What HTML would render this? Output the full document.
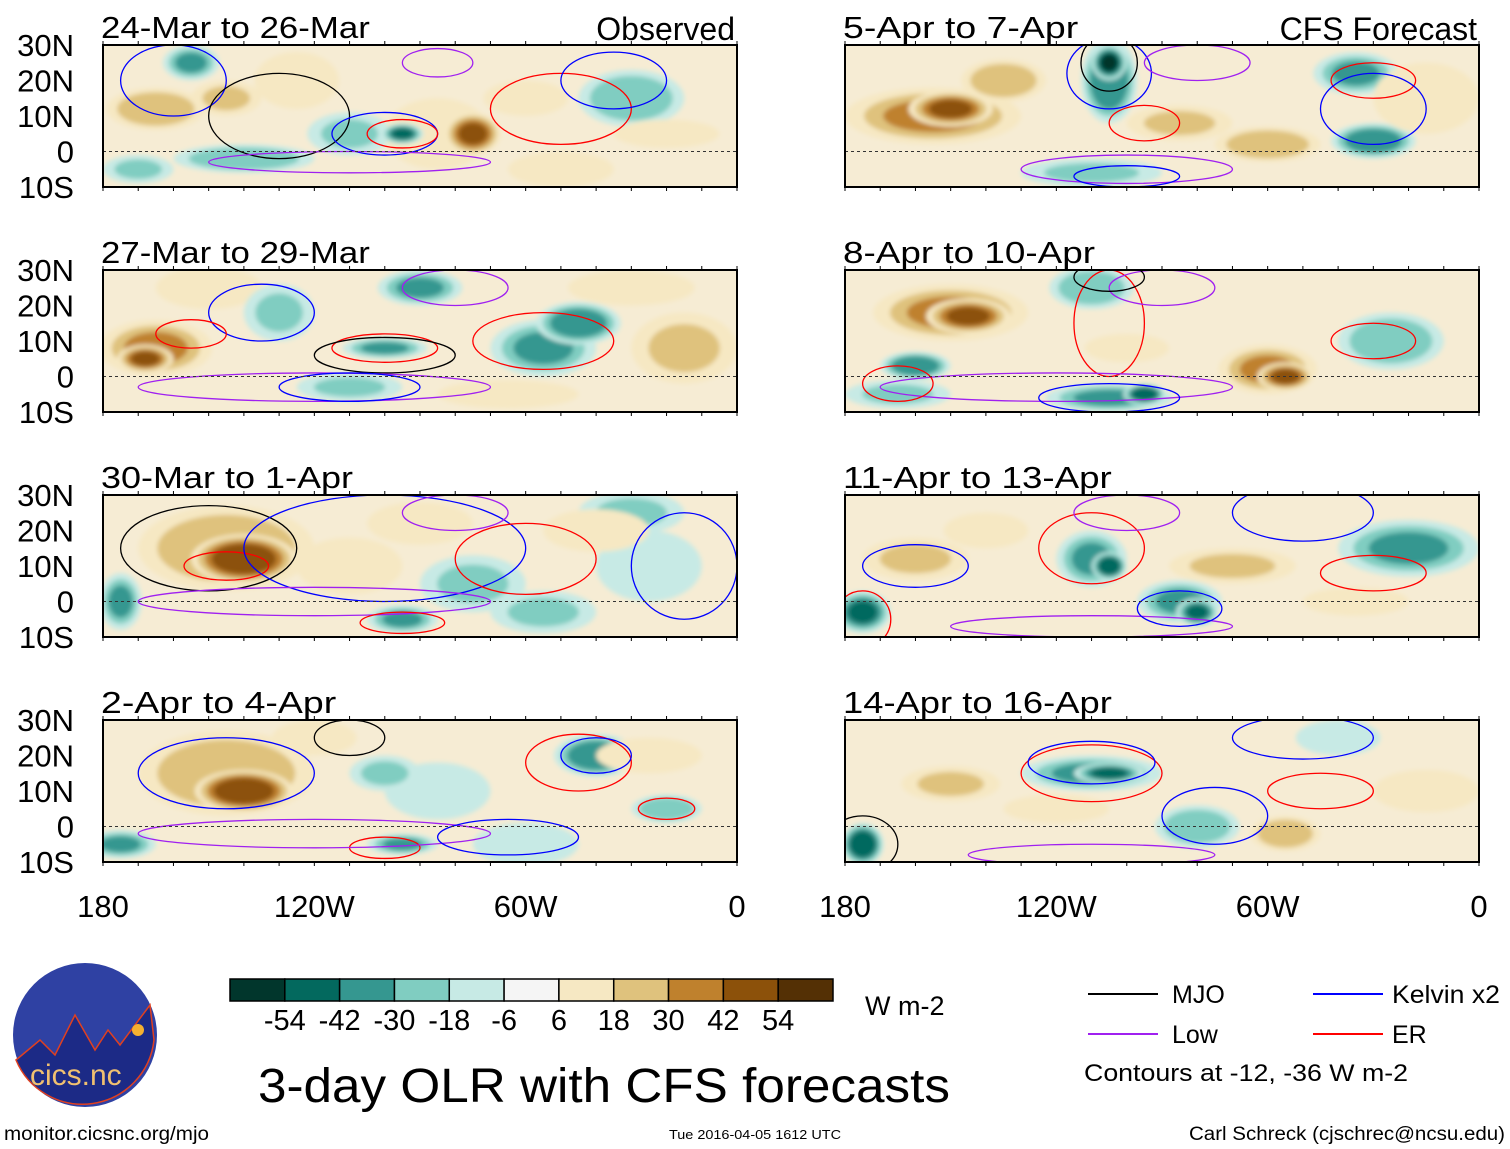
<!DOCTYPE html>
<html><head><meta charset="utf-8"><style>
html,body{margin:0;padding:0;background:#fff}
svg{display:block}
text{font-family:"Liberation Sans",sans-serif;fill:#000}
</style></head><body>
<svg id="chart" width="1510" height="1149" viewBox="0 0 1510 1149" xmlns="http://www.w3.org/2000/svg">
<defs>
<filter id="bl" x="-20%" y="-20%" width="140%" height="140%"><feGaussianBlur stdDeviation="2.5"/></filter>
</defs>
<g id="panels"></g>
<g id="colorbar"></g>
<text x="865" y="1015" font-size="27">W m-2</text>
<text x="258" y="1102" font-size="48" textLength="692" lengthAdjust="spacingAndGlyphs">3-day OLR with CFS forecasts</text>
<g>
<line x1="1088" y1="994" x2="1158" y2="994" stroke="#000" stroke-width="2"/><text x="1172" y="1003" font-size="25">MJO</text>
<line x1="1313" y1="994" x2="1383" y2="994" stroke="#0000ff" stroke-width="2"/><text x="1392" y="1003" font-size="25" textLength="108" lengthAdjust="spacingAndGlyphs">Kelvin x2</text>
<line x1="1088" y1="1034" x2="1158" y2="1034" stroke="#a020f0" stroke-width="2"/><text x="1172" y="1043" font-size="25">Low</text>
<line x1="1313" y1="1034" x2="1383" y2="1034" stroke="#ff0000" stroke-width="2"/><text x="1392" y="1043" font-size="25">ER</text>
<text x="1084" y="1081" font-size="24" textLength="324" lengthAdjust="spacingAndGlyphs">Contours at -12, -36 W m-2</text>
</g>
<g>
<circle cx="85" cy="1035" r="72" fill="#2f41a3"/>
<path d="M16 1060 L40 1040 L55 1055 L75 1015 L95 1050 L108 1030 L120 1045 L150 1005 L154 1040 A72 72 0 0 1 16 1060Z" fill="#1c2a86" stroke="#e04020" stroke-width="1.5"/>
<circle cx="138" cy="1030" r="6" fill="#f5b030"/>
<text x="30" y="1085" font-size="30" style="fill:#f0c070">cics.nc</text>
</g>
<text x="4" y="1140" font-size="19" textLength="205" lengthAdjust="spacingAndGlyphs">monitor.cicsnc.org/mjo</text>
<text x="669" y="1139" font-size="13" textLength="172" lengthAdjust="spacingAndGlyphs">Tue 2016-04-05 1612 UTC</text>
<text x="1189" y="1140" font-size="19" textLength="316" lengthAdjust="spacingAndGlyphs">Carl Schreck (cjschrec@ncsu.edu)</text>
</svg>
<script>
const levels=[-54,-42,-30,-18,-6,6,18,30,42,54];
const colors=["#01362c","#03695e","#359790","#80cdc1","#c7eae5","#f5f5f5","#f6e8c3","#dfc27d","#bf812d","#8c510a","#543005"];
const titles=["24-Mar to 26-Mar","27-Mar to 29-Mar","30-Mar to 1-Apr","2-Apr to 4-Apr","5-Apr to 7-Apr","8-Apr to 10-Apr","11-Apr to 13-Apr","14-Apr to 16-Apr"];
const latTicks=[30,20,10,0,-10];
const latLabels=["30N","20N","10N","0","10S"];
const lonTicks=[-180,-120,-60,0];
const lonLabels=["180","120W","60W","0"];
// anomaly blobs per panel: [lon, lat, rxDeg, ryDeg, value W m-2]
const blobs=[
 [[-165,12,14,6,25],[-145,15,10,5,20],[-125,20,12,8,15],[-110,5,12,6,-20],[-140,-2,20,4,-25],[-85,5,15,10,18],[-75,5,8,6,45],[-95,5,6,3,-45],[-60,15,12,5,12],[-30,15,15,8,-25],[-20,5,15,4,18],[-170,-5,10,4,-18],[-50,-5,15,5,15],[-155,25,8,5,-30]],
 [[-165,8,16,8,35],[-168,5,8,4,48],[-150,25,15,6,18],[-130,18,10,8,-20],[-100,8,12,3,-35],[-90,25,12,5,-30],[-55,8,15,8,-30],[-45,15,12,6,-40],[-110,-3,15,4,-18],[-15,8,15,10,20],[-65,-5,20,4,15],[-30,25,18,5,15]],
 [[-145,15,25,12,30],[-140,12,15,7,50],[-175,0,6,8,-35],[-110,10,15,8,12],[-90,22,15,6,15],[-75,5,15,8,-18],[-55,-3,15,6,-20],[-25,10,15,10,-12],[-30,25,15,6,-20],[-95,-5,10,4,-35],[-40,20,15,6,15]],
 [[-145,15,25,12,30],[-140,10,14,6,52],[-120,25,12,5,18],[-175,-5,10,4,-30],[-95,-5,10,3,-30],[-40,20,12,6,-40],[-85,10,15,8,-12],[-60,-5,15,6,-15],[-20,5,10,4,-25],[-25,20,15,5,18],[-100,15,10,5,-18]],
 [[-155,10,25,8,35],[-150,12,12,5,48],[-135,20,12,6,25],[-105,20,8,12,-40],[-105,25,5,5,-54],[-85,8,15,5,20],[-60,2,15,5,25],[-30,3,12,5,-40],[-35,22,12,6,-30],[-110,-6,20,4,-20],[-15,15,15,10,12]],
 [[-150,18,22,8,35],[-145,17,12,5,48],[-160,3,10,4,-40],[-110,25,12,6,-25],[-60,2,14,7,35],[-55,0,8,4,48],[-25,10,15,8,-25],[-105,-6,18,4,-30],[-95,-5,6,3,-50],[-100,8,12,4,15],[-165,-5,15,4,-20]],
 [[-160,12,15,6,20],[-110,12,10,8,-35],[-105,10,5,4,-50],[-175,-3,8,6,-45],[-85,0,12,6,-30],[-80,-3,6,4,-45],[-70,10,18,5,20],[-20,15,20,8,-30],[-140,20,12,5,15],[-35,0,15,4,15]],
 [[-150,12,14,5,22],[-110,15,20,5,-30],[-105,15,10,3,-45],[-175,-5,6,6,-50],[-80,0,12,6,-25],[-55,-2,10,5,25],[-15,10,15,6,15],[-40,25,12,5,-15],[-120,5,15,4,15]]
];
// contours per panel: [lon, lat, rxDeg, ryDeg, type]  type: 0 MJO,1 Kelvin,2 Low,3 ER
const contours=[
 [[-160,20,15,10,1],[-130,10,20,12,0],[-100,5,15,6,1],[-95,5,10,4,3],[-50,12,20,10,3],[-35,20,15,8,1],[-110,-3,40,3,2],[-85,25,10,4,2]],
 [[-135,18,15,8,1],[-155,12,10,4,3],[-100,8,15,4,3],[-100,6,20,5,0],[-55,10,20,8,3],[-80,25,15,5,2],[-120,-3,50,4,2],[-110,-3,20,4,1]],
 [[-150,15,25,12,0],[-145,10,12,4,3],[-100,15,40,15,1],[-60,12,20,10,3],[-80,25,15,5,2],[-120,0,50,4,2],[-95,-6,12,3,3],[-15,10,15,15,1]],
 [[-145,15,25,10,1],[-110,25,10,5,0],[-45,18,15,8,3],[-40,20,10,5,1],[-100,-6,10,3,3],[-120,-2,50,4,2],[-65,-3,20,5,1],[-20,5,8,3,3]],
 [[-105,22,12,10,1],[-105,25,8,8,0],[-95,8,10,5,3],[-30,20,12,5,3],[-30,12,15,10,1],[-80,25,15,5,2],[-100,-5,30,4,2],[-100,-7,15,3,1]],
 [[-105,15,10,15,3],[-90,25,15,5,2],[-30,10,12,5,3],[-120,-3,50,4,2],[-105,-6,20,4,1],[-165,-2,10,5,3],[-105,28,10,4,0]],
 [[-110,15,15,10,3],[-100,25,15,5,2],[-160,10,15,6,1],[-30,8,15,5,3],[-50,25,20,8,1],[-110,-7,40,3,2],[-175,-5,8,8,3],[-85,-2,12,5,1]],
 [[-110,15,20,8,3],[-110,18,18,6,1],[-45,10,15,5,3],[-75,3,15,8,1],[-110,-8,35,3,2],[-50,25,20,6,1],[-175,-5,10,8,0]]
];
const NS="http://www.w3.org/2000/svg";
const W=634,H=142;
function px(x0,lon){return x0+(lon+180)/180*W;}
function py(y0,lat){return y0+(30-lat)/40*H;}
function colorFor(v){let i=0;while(i<levels.length&&v>levels[i])i++;return colors[i];}
const ctype=["#000","#0000ff","#a020f0","#ff0000"];
const root=document.getElementById("panels");
function mk(tag,attrs,parent){const e=document.createElementNS(NS,tag);for(const k in attrs)e.setAttribute(k,attrs[k]);parent.appendChild(e);return e;}
for(let p=0;p<8;p++){
 const col=p<4?0:1,row=p%4;
 const x0=col?845:103,y0=45+row*225;
 const g=mk("g",{},root);
 
 
 const cp=mk("clipPath",{id:"c"+p},g);
 mk("rect",{x:x0,y:y0,width:W,height:H},cp);
 mk("rect",{x:x0,y:y0,width:W,height:H,fill:"#f6ecd4"},g);
 const fg=mk("g",{"clip-path":"url(#c"+p+")",filter:"url(#bl)"},g);
 blobs[p].forEach(b=>{
  const v=b[4];
  const steps=Math.ceil(Math.abs(v)/12);
  for(let s=0;s<steps;s++){
   const f=1-0.65*s/steps;const val=Math.sign(v)*Math.min(Math.abs(v),(s+1)*12);
   const e=mk("ellipse",{cx:px(x0,b[0]),cy:py(y0,b[1]),rx:b[2]/180*W*f,ry:b[3]/40*H*f,fill:colorFor(val)},fg);
   
   
  }
 });
 const cg=mk("g",{"clip-path":"url(#c"+p+")"},g);
 contours[p].forEach(c=>{
  const e=mk("ellipse",{cx:px(x0,c[0]),cy:py(y0,c[1]),rx:c[2]/180*W,ry:c[3]/40*H,fill:"none",stroke:ctype[c[4]],"stroke-width":1.3},cg);
  
  
 });
 mk("line",{x1:x0,y1:py(y0,0),x2:x0+W,y2:py(y0,0),stroke:"#333","stroke-dasharray":"3,3","stroke-width":1},g);
 mk("rect",{x:x0,y:y0,width:W,height:H,fill:"none",stroke:"#000","stroke-width":2},g);
 for(let l=-180;l<=0;l+=10){const x=px(x0,l);mk("line",{x1:x,y1:y0-4,x2:x,y2:y0,stroke:"#000"},g);mk("line",{x1:x,y1:y0+H,x2:x,y2:y0+H+4,stroke:"#000"},g);}
 const t=mk("text",{x:x0-2,y:y0-7,"font-size":31,textLength:titles[p].length*16.8,lengthAdjust:"spacingAndGlyphs"},g);t.textContent=titles[p];
 
 
 if(row==0){const s=mk("text",{x:x0+W-2,y:y0-5,"font-size":32,"text-anchor":"end"},g);s.textContent=col?"CFS Forecast":"Observed";
  
  }
 if(col==0){latTicks.forEach((lt,i)=>{const tx=mk("text",{x:74,y:py(y0,lt)+11,"font-size":31,"text-anchor":"end"},g);tx.textContent=latLabels[i];
  
  });}
 if(row==3){lonTicks.forEach((ln,i)=>{const tx=mk("text",{x:px(x0,ln),y:917,"font-size":31,"text-anchor":"middle"},g);tx.textContent=lonLabels[i];
  
  });}
}
const cb=document.getElementById("colorbar");
const bw=603/11;
colors.forEach((c,i)=>{const r=mk("rect",{x:230+i*bw,y:979,width:bw,height:22,fill:c,stroke:"#000","stroke-width":1.5},cb);
 
 });
levels.forEach((l,i)=>{const t=mk("text",{x:230+(i+1)*bw,y:1030,"font-size":29,"text-anchor":"middle"},cb);t.textContent=l;
 
 });
</script>
</body></html>
